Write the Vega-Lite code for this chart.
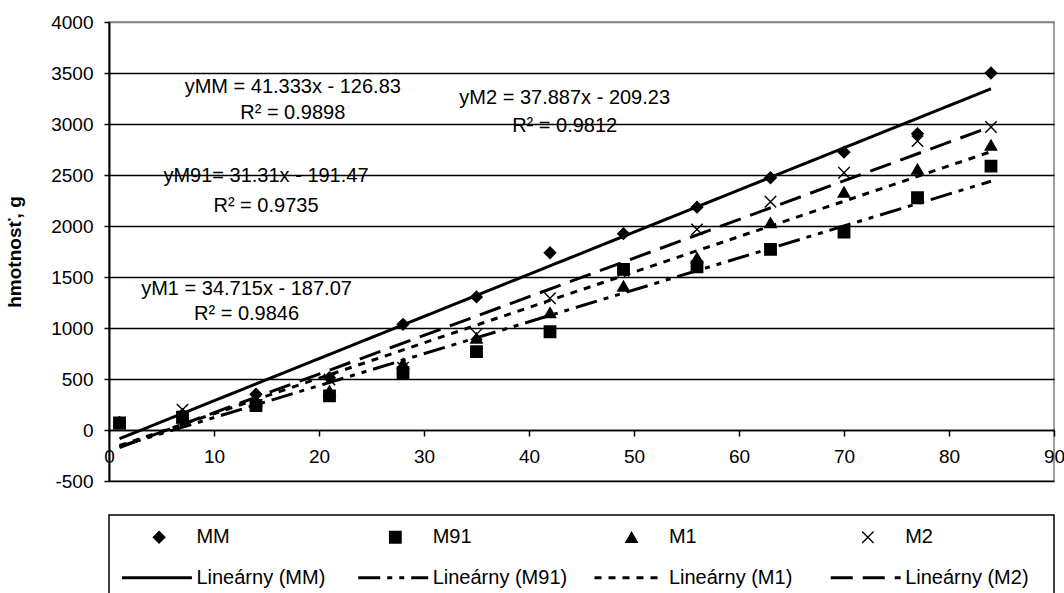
{
  "$schema": "https://vega.github.io/schema/vega-lite/v6.json",
  "padding": {"left": 4, "top": 12, "right": 0, "bottom": 0},
  "background": "white",
  "spacing": 22,
  "config": {"font": "Liberation Sans", "view": {"stroke": null}},
  "resolve": {"scale": {"shape": "independent", "strokeDash": "independent"}},
  "datasets": {
    "points": [
      {"series": "MM", "day": 1, "value": 75}, {"series": "MM", "day": 7, "value": 150}, {"series": "MM", "day": 14, "value": 350},
      {"series": "MM", "day": 21, "value": 513}, {"series": "MM", "day": 28, "value": 1036}, {"series": "MM", "day": 35, "value": 1305},
      {"series": "MM", "day": 42, "value": 1738}, {"series": "MM", "day": 49, "value": 1925}, {"series": "MM", "day": 56, "value": 2185},
      {"series": "MM", "day": 63, "value": 2473}, {"series": "MM", "day": 70, "value": 2724}, {"series": "MM", "day": 77, "value": 2904},
      {"series": "MM", "day": 84, "value": 3500},
      {"series": "M91", "day": 1, "value": 70}, {"series": "M91", "day": 7, "value": 125}, {"series": "M91", "day": 14, "value": 240},
      {"series": "M91", "day": 21, "value": 335}, {"series": "M91", "day": 28, "value": 562}, {"series": "M91", "day": 35, "value": 768},
      {"series": "M91", "day": 42, "value": 963}, {"series": "M91", "day": 49, "value": 1575}, {"series": "M91", "day": 56, "value": 1600},
      {"series": "M91", "day": 63, "value": 1771}, {"series": "M91", "day": 70, "value": 1940}, {"series": "M91", "day": 77, "value": 2277},
      {"series": "M91", "day": 84, "value": 2587},
      {"series": "M1", "day": 1, "value": 60}, {"series": "M1", "day": 7, "value": 120}, {"series": "M1", "day": 14, "value": 285},
      {"series": "M1", "day": 21, "value": 385}, {"series": "M1", "day": 28, "value": 652}, {"series": "M1", "day": 35, "value": 902},
      {"series": "M1", "day": 42, "value": 1150}, {"series": "M1", "day": 49, "value": 1411}, {"series": "M1", "day": 56, "value": 1689},
      {"series": "M1", "day": 63, "value": 2032}, {"series": "M1", "day": 70, "value": 2332}, {"series": "M1", "day": 77, "value": 2558},
      {"series": "M1", "day": 84, "value": 2793},
      {"series": "M2", "day": 1, "value": 70}, {"series": "M2", "day": 7, "value": 200}, {"series": "M2", "day": 14, "value": 300},
      {"series": "M2", "day": 21, "value": 495}, {"series": "M2", "day": 28, "value": 610}, {"series": "M2", "day": 35, "value": 938},
      {"series": "M2", "day": 42, "value": 1291}, {"series": "M2", "day": 49, "value": 1560}, {"series": "M2", "day": 56, "value": 1967},
      {"series": "M2", "day": 63, "value": 2238}, {"series": "M2", "day": 70, "value": 2522}, {"series": "M2", "day": 77, "value": 2832},
      {"series": "M2", "day": 84, "value": 2970}
    ],
    "trends": [
      {"series": "MM", "day": 1, "value": -85.5}, {"series": "MM", "day": 84, "value": 3345.1},
      {"series": "M91", "day": 1, "value": -160.2}, {"series": "M91", "day": 84, "value": 2438.6},
      {"series": "M1", "day": 1, "value": -152.4}, {"series": "M1", "day": 84, "value": 2729.0},
      {"series": "M2", "day": 1, "value": -171.3}, {"series": "M2", "day": 84, "value": 2973.3}
    ],
    "labels": [
      {"text": "yMM = 41.333x - 126.83", "day": 17.5, "value": 3363},
      {"text": "R² = 0.9898", "day": 17.5, "value": 3108},
      {"text": "yM2 = 37.887x - 209.23", "day": 43.4, "value": 3255},
      {"text": "R² = 0.9812", "day": 43.4, "value": 2980},
      {"text": "yM91= 31.31x - 191.47", "day": 14.95, "value": 2490},
      {"text": "R² = 0.9735", "day": 14.95, "value": 2196},
      {"text": "yM1 = 34.715x - 187.07", "day": 13.1, "value": 1382},
      {"text": "R² = 0.9846", "day": 13.1, "value": 1137}
    ],
    "legendItems": [
      {"series": "MM", "kind": "marker", "label": "MM"},
      {"series": "M91", "kind": "marker", "label": "M91"},
      {"series": "M1", "kind": "marker", "label": "M1"},
      {"series": "M2", "kind": "marker", "label": "M2"},
      {"series": "MM", "kind": "trend", "label": "Lineárny (MM)"},
      {"series": "M91", "kind": "trend", "label": "Lineárny (M91)"},
      {"series": "M1", "kind": "trend", "label": "Lineárny (M1)"},
      {"series": "M2", "kind": "trend", "label": "Lineárny (M2)"}
    ]
  },
  "vconcat": [
    {
      "width": 945,
      "height": 459,
      "view": {"stroke": "#808080", "strokeWidth": 1.5},
      "layer": [
        {
          "data": {"name": "trends"},
          "mark": {"type": "line", "stroke": "black", "strokeWidth": 3, "strokeCap": "butt"},
          "encoding": {
            "x": {"field": "day", "type": "quantitative",
              "scale": {"domain": [0, 90], "nice": false, "zero": false},
              "axis": {"title": null, "values": [0, 10, 20, 30, 40, 50, 60, 70, 80, 90], "offset": -51,
                "domainColor": "black", "domainWidth": 1.5, "tickColor": "black", "tickSize": 6, "tickWidth": 1.5,
                "labelExpr": "'' + datum.value",
                "labelFontSize": 19, "labelColor": "black", "labelPadding": 11, "labelFlush": false, "labelOverlap": false, "grid": false}},
            "y": {"field": "value", "type": "quantitative",
              "scale": {"domain": [-500, 4000], "nice": false},
              "axis": {"title": "hmotnosť, g", "titleFontSize": 19, "titleFontWeight": "bold", "titleColor": "black", "titlePadding": 26,
                "values": [-500, 0, 500, 1000, 1500, 2000, 2500, 3000, 3500, 4000],
                "labelExpr": "'' + datum.value",
                "labelFontSize": 19, "labelColor": "black", "labelPadding": 11, "tickSize": 5, "tickColor": "black", "tickWidth": 1.5,
                "domainColor": "black", "domainWidth": 2, "labelOverlap": false,
                "grid": true, "gridWidth": 1.3,
                "gridColor": {"condition": {"test": "datum.value === 4000", "value": "#808080"}, "value": "black"}}},
            "strokeDash": {"field": "series", "type": "nominal",
              "scale": {"domain": ["MM", "M91", "M1", "M2"], "range": [[1, 0], [22, 7, 5, 7, 5, 7], [7, 7], [22, 10]]},
              "legend": null}
          }
        },
        {
          "data": {"name": "points"},
          "mark": {"type": "point", "filled": true, "fill": "black", "stroke": "black", "strokeWidth": 1.4, "size": 130, "opacity": 1},
          "encoding": {
            "x": {"field": "day", "type": "quantitative"},
            "y": {"field": "value", "type": "quantitative"},
            "shape": {"field": "series", "type": "nominal",
              "scale": {"domain": ["MM", "M91", "M1", "M2"], "range": ["diamond", "square", "triangle-up", "M-1,-1L1,1M1,-1L-1,1"]},
              "legend": null}
          }
        },
        {
          "data": {"name": "labels"},
          "mark": {"type": "text", "fontSize": 20, "color": "black", "align": "center", "baseline": "middle"},
          "encoding": {
            "x": {"field": "day", "type": "quantitative"},
            "y": {"field": "value", "type": "quantitative"},
            "text": {"field": "text"}
          }
        }
      ]
    },
    {
      "width": 945,
      "height": 85,
      "view": {"stroke": "black", "strokeWidth": 1.5},
      "data": {"name": "legendItems"},
      "layer": [
        {
          "transform": [{"filter": "datum.kind === 'marker'"}],
          "mark": {"type": "point", "filled": true, "fill": "black", "stroke": "black", "strokeWidth": 1.4, "size": 130, "opacity": 1},
          "encoding": {
            "x": {"field": "series", "type": "nominal", "bandPosition": 0.212,
              "scale": {"type": "band", "domain": ["MM", "M91", "M1", "M2"], "paddingInner": 0, "paddingOuter": 0}, "axis": null},
            "y": {"field": "kind", "type": "nominal", "scale": {"type": "point", "domain": ["marker", "trend"], "padding": 0.55}, "axis": null},
            "shape": {"field": "series", "type": "nominal",
              "scale": {"domain": ["MM", "M91", "M1", "M2"], "range": ["diamond", "square", "triangle-up", "M-1,-1L1,1M1,-1L-1,1"]},
              "legend": null}
          }
        },
        {
          "transform": [{"filter": "datum.kind === 'trend'"}],
          "mark": {"type": "rule", "stroke": "black", "strokeWidth": 3, "strokeCap": "butt"},
          "encoding": {
            "x": {"field": "series", "type": "nominal", "bandPosition": 0.055,
              "scale": {"type": "band", "domain": ["MM", "M91", "M1", "M2"], "paddingInner": 0, "paddingOuter": 0}, "axis": null},
            "x2": {"field": "series", "bandPosition": 0.351},
            "y": {"field": "kind", "type": "nominal", "scale": {"type": "point", "domain": ["marker", "trend"], "padding": 0.55}, "axis": null},
            "strokeDash": {"field": "series", "type": "nominal",
              "scale": {"domain": ["MM", "M91", "M1", "M2"], "range": [[1, 0], [22, 7, 5, 7, 5, 7], [7, 7], [22, 10]]},
              "legend": null}
          }
        },
        {
          "mark": {"type": "text", "fontSize": 20, "color": "black", "align": "left", "baseline": "middle"},
          "encoding": {
            "x": {"field": "series", "type": "nominal", "bandPosition": 0.37,
              "scale": {"type": "band", "domain": ["MM", "M91", "M1", "M2"], "paddingInner": 0, "paddingOuter": 0}, "axis": null},
            "y": {"field": "kind", "type": "nominal", "scale": {"type": "point", "domain": ["marker", "trend"], "padding": 0.55}, "axis": null},
            "text": {"field": "label"}
          }
        }
      ]
    }
  ]
}
